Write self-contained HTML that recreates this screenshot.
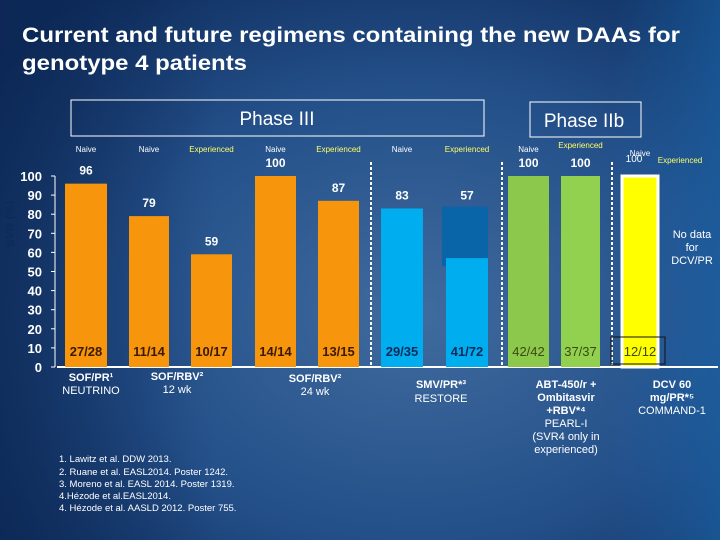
<!DOCTYPE html>
<html><head><meta charset="utf-8"><style>
html,body{margin:0;padding:0}
body{width:720px;height:540px;overflow:hidden;font-family:"Liberation Sans",Arial,sans-serif}
</style></head><body>
<svg id="chart" width="720" height="540" xmlns="http://www.w3.org/2000/svg" font-family="Liberation Sans, Arial, sans-serif">
<defs>
<radialGradient id="bg" cx="0.58" cy="0.58" r="0.75">
<stop offset="0" stop-color="#3f6b9e"/><stop offset="0.55" stop-color="#24508a"/><stop offset="1" stop-color="#0e2c5c"/>
</radialGradient>
<linearGradient id="bg2" x1="0" y1="0" x2="1" y2="0">
<stop offset="0" stop-color="#0a2450" stop-opacity="0.6"/><stop offset="0.3" stop-color="#0a2450" stop-opacity="0"/><stop offset="0.85" stop-color="#1a64a8" stop-opacity="0"/><stop offset="1" stop-color="#1a64a8" stop-opacity="0.6"/>
</linearGradient>
</defs>
<rect width="720" height="540" fill="url(#bg)"/>
<rect width="720" height="540" fill="url(#bg2)"/>
<text x="22" y="42" fill="#fff" font-size="21" font-weight="bold" textLength="658" lengthAdjust="spacingAndGlyphs">Current and future regimens containing the new DAAs for</text>
<text x="22" y="70" fill="#fff" font-size="21" font-weight="bold" textLength="225" lengthAdjust="spacingAndGlyphs">genotype 4 patients</text>
<rect x="71" y="100" width="413" height="36" fill="none" stroke="#fff" stroke-width="1"/>
<text x="277" y="125" fill="#fff" font-size="19" text-anchor="middle">Phase III</text>
<rect x="530" y="102" width="111" height="35" fill="none" stroke="#fff" stroke-width="1"/>
<text x="584" y="127" fill="#fff" font-size="19" text-anchor="middle">Phase IIb</text>
<text transform="translate(14,224) rotate(-90)" fill="#0d2b5a" font-size="12" font-weight="bold" text-anchor="middle">SVR (%)</text>
<g id="g"></g>
<text fill="#fff" font-size="11" text-anchor="middle"><tspan x="692" y="238">No data</tspan><tspan x="692" y="251">for</tspan><tspan x="692" y="264">DCV/PR</tspan></text>
<g fill="#fff" font-size="11" text-anchor="middle">
<text x="91" y="381" font-weight="bold">SOF/PR¹</text><text x="91" y="394">NEUTRINO</text>
<text x="177" y="380" font-weight="bold">SOF/RBV²</text><text x="177" y="393">12 wk</text>
<text x="315" y="382" font-weight="bold">SOF/RBV²</text><text x="315" y="395">24 wk</text>
<text x="441" y="388" font-weight="bold">SMV/PR*³</text><text x="441" y="402">RESTORE</text>
<text x="566" y="388" font-weight="bold">ABT-450/r +</text><text x="566" y="401" font-weight="bold">Ombitasvir</text><text x="566" y="414" font-weight="bold">+RBV*⁴</text><text x="566" y="427">PEARL-I</text><text x="566" y="440">(SVR4 only in</text><text x="566" y="453">experienced)</text>
<text x="672" y="388" font-weight="bold">DCV 60</text><text x="672" y="401" font-weight="bold">mg/PR*⁵</text><text x="672" y="414">COMMAND-1</text>
</g>
<g fill="#fff" font-size="9.5">
<text x="59" y="462">1. Lawitz et al. DDW 2013.</text>
<text x="59" y="475">2. Ruane et al. EASL2014. Poster 1242.</text>
<text x="59" y="487">3. Moreno et al. EASL 2014. Poster 1319.</text>
<text x="59" y="499">4.Hézode et al.EASL2014.</text>
<text x="59" y="511">4. Hézode et al. AASLD 2012. Poster 755.</text>
</g>
</svg>
<script>
const categories = ["SOF/PR Naive","SOF/RBV 12wk Naive","SOF/RBV 12wk Experienced","SOF/RBV 24wk Naive","SOF/RBV 24wk Experienced","SMV/PR Naive","SMV/PR Experienced","ABT-450 Naive","ABT-450 Experienced","DCV Naive"];
const svrValues = [96,79,59,100,87,83,57,100,100,100];
const patientCounts = ["27/28","11/14","10/17","14/14","13/15","29/35","41/72","42/42","37/37","12/12"];
const groupLabels = ["Naive","Naive","Experienced","Naive","Experienced","Naive","Experienced","Naive","Experienced","Naive"];
const yTicks = [0,10,20,30,40,50,60,70,80,90,100];

const NS="http://www.w3.org/2000/svg";
const g=document.getElementById('g');
const y0=367, y100=176;
function yScale(v){return y0-(y0-y100)*v/100;}
const barX=[65,129,191,255,318,381,446,508,561,622];
const barW=[42,40,41,41,41,42,42,41,39,36];
const fills=["#f7960d","#f7960d","#f7960d","#f7960d","#f7960d","#00aeef","#00aeef","#8cc84b","#92d050","#ffff00"];
function el(t,a){const e=document.createElementNS(NS,t);for(const k in a)e.setAttribute(k,a[k]);g.appendChild(e);return e;}
let ax=el('line',{x1:57,y1:y0,x2:718,y2:y0,stroke:'#fff','stroke-width':2});


let ay=el('line',{x1:55,y1:y100,x2:55,y2:y0,stroke:'#fff','stroke-width':1});


yTicks.forEach(v=>{
  const t=el('text',{x:42,y:yScale(v)+5,fill:'#fff','font-size':13,'font-weight':'bold','text-anchor':'end'});
  t.textContent=v;
  
  
  const tk=el('line',{x1:51,y1:yScale(v),x2:55,y2:yScale(v),stroke:'#fff'});
  
  
});
[371,502,612].forEach(x=>{
  const d=el('line',{x1:x,y1:162,x2:x,y2:y0,stroke:'#fff','stroke-width':2,'stroke-dasharray':'3,2'});
  
  
});
svrValues.forEach((v,i)=>{
  const x=barX[i],w=barW[i],top=yScale(v);
  let labelY=top-9;
  if(i===6){
    const dk=el('rect',{x:x-4,y:yScale(84),width:w+4,height:yScale(57)-yScale(84)+8,fill:'#0a64a8'});
    
    
    labelY=yScale(84)-7;
  }
  const r=el('rect',{x:x,y:top,width:w,height:y0-top,fill:fills[i]});
  if(i===9){r.setAttribute('stroke','#fff');r.setAttribute('stroke-width','3');}
  
  
  const lbl=el('text',{x:x+w/2,y:(i===9?162:labelY),fill:'#fff','font-size':(i===9?10:12),'font-weight':(i===9?'normal':'bold'),'text-anchor':'middle'});
  if(i===9)lbl.setAttribute('x',x+12);
  lbl.textContent=v;
  
  
  const dark=i<7;
  const c=el('text',{x:x+w/2,y:356,fill:(i<5?'#3a1a00':(dark?'#0d2b5a':'#3a4a10')),'font-size':13,'font-weight':(dark?'bold':'normal'),'text-anchor':'middle'});
  c.textContent=patientCounts[i];
  
  
  const gl=el('text',{x:x+w/2,y:(i===8?148:(i===9?156:152)),fill:(groupLabels[i]==='Naive'?'#fff':'#ffff66'),'font-size':8,'text-anchor':'middle'});
  gl.textContent=groupLabels[i];
  
  
});
const box=el('rect',{x:611,y:337,width:54,height:27,fill:'none',stroke:'#111','stroke-width':1});


const ex=el('text',{x:680,y:163,fill:'#ffff66','font-size':8,'text-anchor':'middle'});
ex.textContent='Experienced';


</script>
</body></html>
